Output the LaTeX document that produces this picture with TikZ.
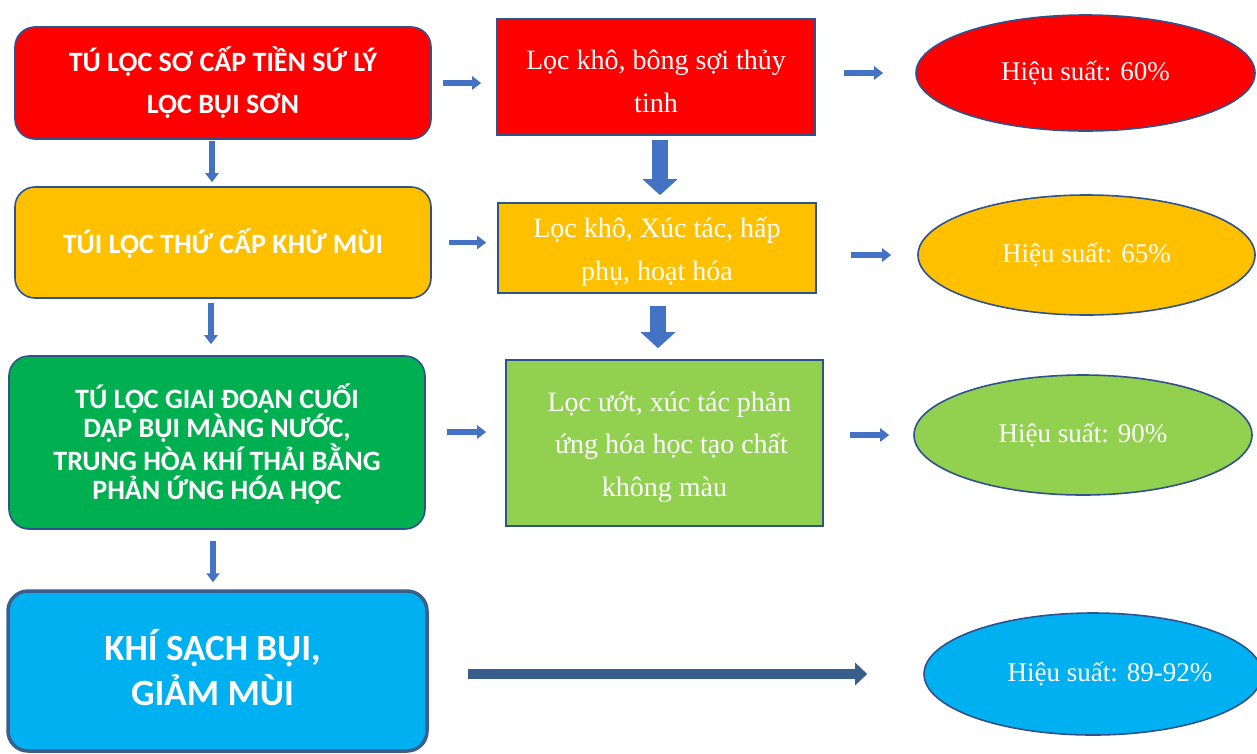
\documentclass[tikz,border=0pt]{standalone}
\usepackage{fontspec}
\setmainfont{Liberation Serif}
\newfontfamily\carl{Carlito}
\usetikzlibrary{arrows.meta,shapes.geometric}
\definecolor{bord}{HTML}{2F528F}
\definecolor{arrfill}{HTML}{4472C4}
\definecolor{longarr}{HTML}{3A5E8C}
\definecolor{cred}{HTML}{FF0000}
\definecolor{cyel}{HTML}{FFC000}
\definecolor{cgreen}{HTML}{00B050}
\definecolor{clgreen}{HTML}{92D050}
\definecolor{cblue}{HTML}{00B0F0}
\definecolor{bbord}{HTML}{3B5E8C}
\newcommand{\toppad}{\rule{0pt}{28pt}}
\tikzset{
  stagebox/.style={draw=bord, line width=1.6pt, rounded corners=20pt, inner sep=0pt,
    text=white, align=center, minimum width=416pt,
    font=\carl\bfseries\fontsize{28pt}{42pt}\selectfont},
  methodbox/.style={draw=bord, line width=1.6pt, inner sep=0pt, text=white,
    align=center, minimum width=318pt,
    font=\fontsize{28pt}{42.5pt}\selectfont},
  effell/.style={ellipse, draw=bord, line width=1.6pt, inner sep=0pt, text=white,
    font=\fontsize{27pt}{32pt}\selectfont},
  smallarr/.style={draw=arrfill, line width=5.5pt, -{Triangle[width=13pt,length=9pt]}},
  bigarr/.style={draw=arrfill, line width=16pt, -{Triangle[width=34pt,length=16pt]}},
  longarrow/.style={draw=longarr, line width=10pt, -{Triangle[width=22pt,length=12pt]}}
}
\begin{document}
\begin{tikzpicture}[x=1pt,y=-1pt]
\useasboundingbox (0,0) rectangle (1257,753);
% stage boxes
\node[stagebox, fill=cred, minimum height=112pt] (r1) at (223,83)
  {TÚ LỌC SƠ CẤP TIỀN SỨ LÝ\\LỌC BỤI SƠN};
\node[stagebox, fill=cyel, minimum height=111pt] (y1) at (223,242.5)
  {\rule{0pt}{27pt}TÚI LỌC THỨ CẤP KHỬ MÙI};
\node[stagebox, fill=cgreen, minimum height=173pt,
  font=\carl\bfseries\fontsize{28pt}{29pt}\selectfont] (g1) at (217,442.5)
  {\lineskiplimit=-30pt\relax\rule{0pt}{28pt}TÚ LỌC GIAI ĐOẠN CUỐI\\DẬP BỤI MÀNG NƯỚC,\\TRUNG HÒA KHÍ THẢI BẰNG\\PHẢN ỨNG HÓA HỌC};
\node[stagebox, fill=cblue, draw=bbord, line width=3.5pt, minimum width=419pt,
  minimum height=160pt, font=\carl\bfseries\fontsize{37pt}{45pt}\selectfont] (b1) at (217.5,671)
  {KHÍ SẠCH BỤI,\hspace*{10pt}\\GIẢM MÙI\hspace*{10pt}\rule[-8pt]{0pt}{8pt}};
% method boxes
\node[methodbox, fill=cred, minimum height=116pt] (r2) at (656,77)
  {\toppad Lọc khô, bông sợi thủy\\tinh};
\node[methodbox, fill=cyel, minimum height=90pt] (y2) at (657,248)
  {\toppad Lọc khô, Xúc tác, hấp\\phụ, hoạt hóa};
\node[methodbox, fill=clgreen, minimum width=317pt, minimum height=166pt] (g2) at (664.5,443)
  {\toppad\hspace*{10pt}Lọc ướt, xúc tác phản\\\hspace*{14pt}ứng hóa học tạo chất\\không màu};
% efficiency ellipses
\node[effell, fill=cred, minimum width=339pt, minimum height=116pt] (r3) at (1085.5,73)
  {Hiệu suất: 60\%};
\node[effell, fill=cyel, minimum width=337pt, minimum height=120pt] (y3) at (1086.5,255)
  {Hiệu suất: 65\%};
\node[effell, fill=clgreen, minimum width=338pt, minimum height=120pt] (g3) at (1083,435)
  {Hiệu suất: 90\%};
\node[effell, fill=cblue, minimum width=338pt, minimum height=122pt] (b3) at (1093,674)
  {\hspace*{34pt}Hiệu suất: 89-92\%};
% horizontal arrows
\draw[smallarr, shorten <=11pt, shorten >=15pt] (r1.east) -- (r1.east -| r2.west);
\draw[smallarr, shorten <=28pt, shorten >=32pt] (r2.east |- r3.west) -- (r3.west);
\draw[smallarr, shorten <=17pt, shorten >=11pt] (y1.east) -- (y1.east -| y2.west);
\draw[smallarr, shorten <=34pt, shorten >=26pt] (y2.east |- y3.west) -- (y3.west);
\draw[smallarr, shorten <=21pt, shorten >=19pt] ([yshift=10.5pt]g1.east) -- ([yshift=10.5pt]g1.east -| g2.west);
\draw[smallarr, shorten <=26pt, shorten >=24pt] (g2.east |- g3.west) -- (g3.west);
\draw[longarrow, shorten <=39pt, shorten >=56pt] (b1.east |- b3.west) -- (b3.west);
% vertical arrows
\draw[smallarr, shorten <=1pt, shorten >=4pt] ([xshift=-11pt]r1.south) -- ([xshift=-11pt]r1.south |- y1.north);
\draw[smallarr, shorten <=4pt, shorten >=11pt] ([xshift=-12pt]y1.south) -- ([xshift=-12pt]y1.south |- g1.north);
\draw[smallarr, shorten <=11pt, shorten >=7pt] ([xshift=-4pt]g1.south) -- ([xshift=-4pt]g1.south |- b1.north);
\draw[bigarr, shorten <=4pt, shorten >=7pt] ([xshift=4pt]r2.south) -- ([xshift=4pt]r2.south |- y2.north);
\draw[bigarr, shorten <=12pt, shorten >=11pt] ([xshift=1pt]y2.south) -- ([xshift=1pt]y2.south |- g2.north);
\end{tikzpicture}
\end{document}
